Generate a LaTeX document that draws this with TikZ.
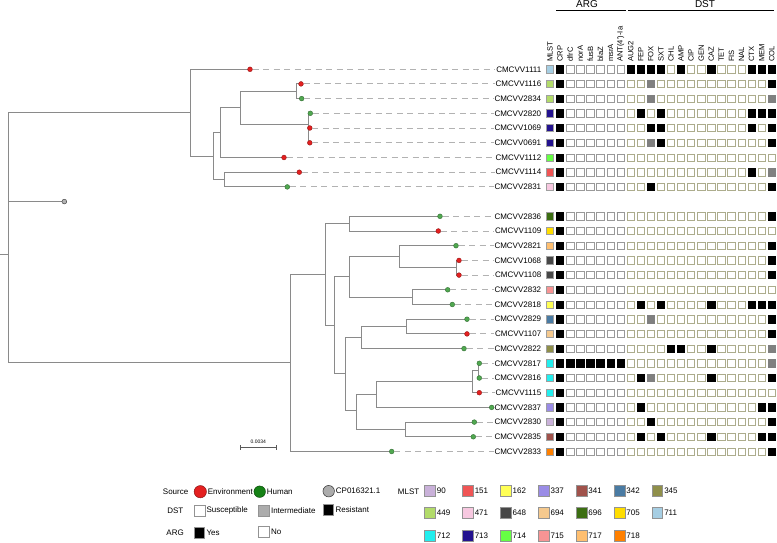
\documentclass[tikz,border=0pt]{standalone}
\usepackage{fontspec}
\setmainfont{Liberation Sans}
\usepackage{tikz}
\usetikzlibrary{positioning}
\definecolor{envred}{RGB}{228,32,32}
\definecolor{humgreen}{RGB}{22,130,22}
\definecolor{humdot}{RGB}{80,168,80}
\definecolor{branch}{RGB}{138,138,138}
\definecolor{dstrim}{RGB}{172,172,140}
\colorlet{fl0}{white}\colorlet{fl1}{black}\colorlet{fl2}{gray}
\colorlet{ar0}{gray!80}\colorlet{ar1}{black}\colorlet{ar2}{gray}
\colorlet{ds0}{dstrim}\colorlet{ds1}{black}\colorlet{ds2}{gray}
\definecolor{m90}{HTML}{C9B1D9}
\definecolor{m151}{HTML}{F05555}
\definecolor{m162}{HTML}{FFFF55}
\definecolor{m337}{HTML}{9A8CE6}
\definecolor{m341}{HTML}{A0524B}
\definecolor{m342}{HTML}{4A7BA3}
\definecolor{m345}{HTML}{8F8F4A}
\definecolor{m449}{HTML}{B2DB6A}
\definecolor{m471}{HTML}{F7C8E0}
\definecolor{m648}{HTML}{474747}
\definecolor{m694}{HTML}{F5C98E}
\definecolor{m696}{HTML}{3C6E12}
\definecolor{m705}{HTML}{FFDD00}
\definecolor{m711}{HTML}{A6CEE3}
\definecolor{m712}{HTML}{22EEEE}
\definecolor{m713}{HTML}{23128F}
\definecolor{m714}{HTML}{66FF44}
\definecolor{m715}{HTML}{F79494}
\definecolor{m717}{HTML}{FFBF70}
\definecolor{m718}{HTML}{FF8000}
\tikzset{
  br/.style={draw=branch, line width=0.9pt},
  dashln/.style={draw=gray!60, line width=0.9pt, dash pattern=on 6pt off 4.5pt},
  leafdot/.style={circle, inner sep=0pt, minimum size=4.8pt, line width=0.4pt},
  strain/.style={anchor=east, inner sep=0.6pt, font=\fontsize{8}{9}\selectfont},
  cell/.style={minimum size=7.3pt, inner sep=0pt, line width=0.6pt},
  colhead/.style={rotate=90, anchor=west, inner sep=0pt, font=\fontsize{7.6}{8}\selectfont},
  grouphead/.style={inner sep=0pt, font=\fontsize{10}{11}\selectfont},
  key/.style={minimum size=10.7pt, inner sep=0pt, draw=gray!85, line width=0.6pt},
  srcdot/.style={circle, minimum size=11.5pt, inner sep=0pt, line width=0.5pt},
  keytxt/.style={anchor=west, inner sep=0pt, font=\fontsize{8}{9}\selectfont},
}
\def\leaves{1111/250/69.3/envred, 1116/301/83.9/envred, 2834/301.7/98.6/humdot,
  2820/310.3/113.3/humdot, 1069/309.8/128/envred, 0691/309.8/142.8/envred,
  1112/284/157.5/envred, 1114/299.3/172.2/envred, 2831/287.3/186.9/humdot,
  2836/440/216.3/humdot, 1109/438.3/231/envred, 2821/456/245.7/humdot,
  1068/459/260.4/envred, 1108/459/275.1/envred, 2832/447.7/289.8/humdot,
  2818/452.3/304.5/humdot, 2829/467/319.2/humdot, 1107/467/333.9/envred,
  2822/464/348.6/humdot, 2817/479.3/363.3/humdot, 2816/479.3/378/humdot,
  1115/479.3/392.7/envred, 2837/491.7/407.4/humdot, 2830/474.3/422.1/humdot,
  2835/473.3/436.8/humdot, 2833/391.7/451.5/humdot}
\begin{document}
\begin{tikzpicture}[x=1pt,y=-1pt]
\useasboundingbox (0,0) rectangle (777,543);

% tree
\coordinate (R0) at (0,254);
\coordinate (R) at (8.3,254);
\coordinate (T0) at (190,112.7);
\coordinate (T1) at (213.3,156.1);
\coordinate (T2) at (220,132.7);
\coordinate (T3) at (240.7,107.8);
\coordinate (T4) at (296.7,91.3);
\coordinate (T5) at (308.3,124.4);
\coordinate (T5b) at (308.8,135.4);
\coordinate (T6) at (224.3,179.5);
\coordinate (B0) at (290,362.9);
\coordinate (B1) at (325,274.3);
\coordinate (B2) at (349.3,223.7);
\coordinate (B3) at (334.3,325);
\coordinate (B4) at (349.3,276.2);
\coordinate (B4a) at (399.3,256.7);
\coordinate (B4c) at (456.7,267.7);
\coordinate (B4b) at (412.7,297.2);
\coordinate (B5) at (345.7,373.9);
\coordinate (B6) at (361.7,337);
\coordinate (B6a) at (406,326.5);
\coordinate (B7) at (356.7,410.8);
\coordinate (B8) at (376.7,394);
\coordinate (B9) at (472.7,381.6);
\coordinate (B10) at (478,370.7);
\coordinate (B7a) at (405,429.5);
\coordinate (pCP) at (64.3,201.6);
\foreach \n/\x/\y/\c in \leaves { \coordinate (p\n) at (\x,\y); }
\draw[br] (R0) -- (R);
\foreach \p/\c in {R/T0, R/pCP, R/B0, T0/p1111, T0/T1, T1/T2, T1/T6, T2/T3, T2/p1112,
  T3/T4, T3/T5, T4/p1116, T4/p2834, T5/p2820, T5/T5b, T5b/p1069, T5b/p0691,
  T6/p1114, T6/p2831, B0/B1, B0/p2833, B1/B2, B1/B3, B2/p2836, B2/p1109,
  B3/B4, B3/B5, B4/B4a, B4/B4b, B4a/p2821, B4a/B4c, B4c/p1068, B4c/p1108,
  B4b/p2832, B4b/p2818, B5/B6, B5/B7, B6/B6a, B6/p2822, B6a/p2829, B6a/p1107,
  B7/B8, B7/B7a, B8/B9, B8/p2837, B9/B10, B9/p1115, B10/p2817, B10/p2816,
  B7a/p2830, B7a/p2835}
  \draw[br] (\p) |- (\c);
\node[leafdot, fill=gray!60, draw=gray!40!black] (dCP) at (pCP) {};
\foreach \n/\x/\y/\c in \leaves {
  \node[leafdot, fill=\c, draw=\c!65!black] (d\n) at (p\n) {};
  \node[strain] (s\n) at (542,\y) {CMCVV\n};
  \draw[dashln] (d\n) -- (s\n);
}

% scale bar
\coordinate (sbL) at (240.7,447.5);
\coordinate (sbR) at (276,447.5);
\draw[black!65, line width=0.6pt] (sbL) -- (sbR) (sbL) ++(0,-2.5) -- ++(0,5) (sbR) ++(0,-2.5) -- ++(0,5);
\node[inner sep=0pt, font=\fontsize{5}{6}\selectfont] (sbT) at (258.3,442) {0.0034};

% header
\node[grouphead] (argT) at (587,4.5) {ARG};
\node[grouphead] (dstT) at (705,4.5) {DST};
\draw[line width=0.6pt] (556,10.5) -- (626,10.5) (628,10.5) -- (774,10.5);
\foreach \t [count=\j from 0] in {MLST,CRP,dfrC,norA,fusB,blaZ,msrA,ANT(4')-Ia,AUG2,FEP,FOX,SXT,CHL,AMP,CIP,GEN,CAZ,TET,FIS,NAL,CTX,MEM,COL}
  \node[colhead] (h\j) at ({550+10.08*\j},62) {\t};

% matrix
\foreach \n/\y/\m/\a/\d in {
  1111/69.3/m711/{1,0,0,0,0,0,0}/{1,1,1,1,0,1,0,0,1,0,0,0,1,1,1},
  1116/83.9/m449/{1,0,0,0,0,0,0}/{0,0,2,0,0,0,0,0,0,0,0,0,0,0,1},
  2834/98.6/m449/{1,0,0,0,0,0,0}/{0,0,2,0,0,0,0,0,0,0,0,0,0,0,2},
  2820/113.3/m713/{1,0,0,0,0,0,0}/{0,1,0,1,0,0,0,0,0,0,0,0,1,1,1},
  1069/128/m713/{1,0,0,0,0,0,0}/{0,0,1,1,0,0,0,0,0,0,0,0,1,0,1},
  0691/142.8/m713/{1,0,0,0,0,0,0}/{0,0,2,1,0,0,0,0,0,0,0,0,0,0,1},
  1112/157.5/m714/{1,0,0,0,0,0,0}/{0,0,0,0,0,0,0,0,0,0,0,0,0,0,0},
  1114/172.2/m151/{1,0,0,0,0,0,0}/{0,0,0,0,0,0,0,0,0,0,0,0,1,0,2},
  2831/186.9/m471/{1,0,0,0,0,0,0}/{0,0,1,0,0,0,0,0,0,0,0,0,0,0,1},
  2836/216.3/m696/{1,0,0,0,0,0,0}/{0,0,0,0,0,0,0,0,0,0,0,0,0,0,1},
  1109/231/m705/{1,0,0,0,0,0,0}/{0,0,0,0,0,0,0,0,0,0,0,0,0,0,0},
  2821/245.7/m717/{1,0,0,0,0,0,0}/{0,0,0,0,0,0,0,0,0,0,0,0,0,0,1},
  1068/260.4/m648/{1,0,0,0,0,0,0}/{0,0,0,0,0,0,0,0,0,0,0,0,0,0,1},
  1108/275.1/m648/{1,0,0,0,0,0,0}/{0,0,0,0,0,0,0,0,0,0,0,0,0,0,1},
  2832/289.8/m715/{1,0,0,0,0,0,0}/{0,0,0,0,0,0,0,0,0,0,0,0,0,0,0},
  2818/304.5/m162/{1,0,0,0,0,0,0}/{0,1,0,1,0,0,0,0,1,0,0,0,1,1,1},
  2829/319.2/m342/{1,0,0,0,0,0,0}/{0,0,2,0,0,0,0,0,0,0,0,0,0,0,1},
  1107/333.9/m694/{1,0,0,0,0,0,0}/{0,0,0,0,0,0,0,0,0,0,0,0,0,0,1},
  2822/348.6/m345/{1,0,0,0,0,0,0}/{0,0,0,0,1,1,0,0,1,0,0,0,0,0,2},
  2817/363.3/m712/{1,1,1,1,1,1,1}/{0,0,0,0,0,0,0,0,0,0,0,0,0,0,2},
  2816/378/m712/{1,0,0,0,0,0,0}/{0,1,2,0,0,0,0,0,1,0,0,0,0,0,1},
  1115/392.7/m712/{1,0,0,0,0,0,0}/{0,0,0,0,0,0,0,0,0,0,0,0,0,0,0},
  2837/407.4/m337/{1,0,0,0,0,0,0}/{0,1,0,0,0,0,0,0,0,0,0,0,0,1,1},
  2830/422.1/m90/{1,0,0,0,0,0,0}/{0,0,1,0,0,0,0,0,0,0,0,0,0,0,1},
  2835/436.8/m341/{1,0,0,0,0,0,0}/{0,1,0,1,0,0,0,0,1,0,0,0,0,1,1},
  2833/451.5/m718/{1,0,0,0,0,0,0}/{0,0,0,0,0,0,0,0,0,0,0,0,0,0,1}}
{
  \node[cell, fill=\m, draw=gray!75] (m\n) at (550,\y) {};
  \foreach \v [count=\j] in \a
    \node[cell, fill=fl\v, draw=ar\v] (a\n-\j) at ({550+10.08*\j},\y) {};
  \foreach \v [count=\j from 8] in \d
    \node[cell, fill=fl\v, draw=ds\v] (t\n-\j) at ({550+10.08*\j},\y) {};
}

% legend
\node[keytxt, anchor=east] (srcK) at (188.5,491.7) {Source};
\node[srcdot, fill=envred, draw=envred!60!black, minimum size=12.3pt] (kEnv) at (200.3,491.7) {};
\node[keytxt, right=1pt of kEnv] (tEnv) {Environment};
\node[srcdot, fill=humgreen, draw=humgreen!60!black] (kHum) at (259.7,491.7) {};
\node[keytxt, right=1pt of kHum] (tHum) {Human};
\node[srcdot, fill=gray!65, draw=gray!40!black] (kRef) at (328.7,491.2) {};
\node[keytxt, right=1pt of kRef] (tRef) {CP016321.1};
\node[keytxt, anchor=east] (dstK) at (183.5,511) {DST};
\node[key, fill=white] (kSus) at (199.7,510.5) {};
\node[keytxt, right=1pt of kSus] (tSus) {Susceptible};
\node[key, fill=gray!65] (kInt) at (263.7,510.5) {};
\node[keytxt, right=1.5pt of kInt] (tInt) {Intermediate};
\node[key, fill=black] (kRes) at (328.3,510) {};
\node[keytxt, right=1.5pt of kRes] (tRes) {Resistant};
\node[keytxt, anchor=east] (argK) at (184,532.7) {ARG};
\node[key, fill=black] (kYes) at (199.2,532.5) {};
\node[keytxt, right=1.5pt of kYes] (tYes) {Yes};
\node[key, fill=white] (kNo) at (263.8,532) {};
\node[keytxt, right=1.5pt of kNo] (tNo) {No};
\node[keytxt, anchor=east] (mlstK) at (419.5,491.5) {MLST};
\foreach \t/\i/\y in {90/0/491, 151/1/491, 162/2/491, 337/3/491, 341/4/491, 342/5/491, 345/6/491,
  449/0/513, 471/1/513, 648/2/513, 694/3/513, 696/4/513, 705/5/513, 711/6/513,
  712/0/536, 713/1/536, 714/2/536, 715/3/536, 717/4/536, 718/5/536}
{
  \node[key, fill=m\t] (k\t) at ({430+37.9*\i},\y) {};
  \node[keytxt, right=1pt of k\t] (l\t) {\t};
}
\end{tikzpicture}
\end{document}
